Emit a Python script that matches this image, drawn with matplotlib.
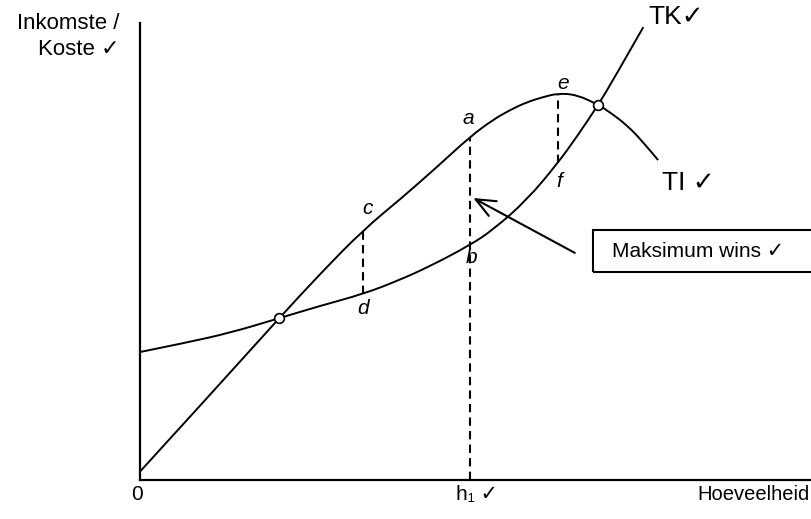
import matplotlib.pyplot as plt
from matplotlib.patches import Rectangle, PathPatch
from matplotlib.path import Path

# totale inkomste (TI) en totale koste (TK), gelees van die skets
ti_x = [0.1, 10.4, 20.7, 26.8, 33.2, 39.1, 44.2, 49.1, 52.5, 55.1, 57.6, 60.0,
        62.2, 65.0, 68.2, 69.9, 72.5, 74.9, 77.1]
ti_y = [2.0, 18.6, 35.4, 45.1, 54.7, 61.9, 68.5, 75.1, 78.8, 81.0, 82.7, 83.8,
        84.6, 84.3, 82.1, 80.5, 77.6, 73.9, 70.0]
tk_x = [0.0, 6.7, 13.4, 20.7, 26.8, 33.2, 38.2, 43.2, 49.1, 52.5, 57.6, 62.2,
        65.0, 68.2, 70.4, 74.9]
tk_y = [28.0, 30.0, 32.2, 35.4, 38.1, 40.7, 43.5, 46.8, 51.4, 54.7, 61.3, 69.4,
        75.1, 82.1, 87.5, 99.1]

# gelykbreekpunte
break_x = [20.7, 68.2]
break_y = [35.4, 82.1]

# vertikale stippellyne: (x, onder, bo)
gaps = [(33.2, 40.7, 54.7),
        (49.1, 0.0, 75.1),
        (62.2, 69.4, 84.4)]
h1 = 49.1

plt.rcParams["font.family"] = ["Liberation Sans", "DejaVu Sans"]


def smooth_path(xs, ys):
    # gladde kromme: die gelese punte dien as beheerpunte vir kwadratiese Bezier-stukke
    verts = [(xs[0], ys[0])]
    codes = [Path.MOVETO]
    n = len(xs)
    for i in range(1, n - 1):
        verts.append((xs[i], ys[i]))
        if i < n - 2:
            verts.append(((xs[i] + xs[i + 1]) / 2, (ys[i] + ys[i + 1]) / 2))
        else:
            verts.append((xs[-1], ys[-1]))
        codes += [Path.CURVE3, Path.CURVE3]
    return Path(verts, codes)


fig = plt.figure(figsize=(8.12, 5.19), dpi=100)
ax = fig.add_axes([140 / 812, 39 / 519, 672 / 812, 457 / 519])
ax.set_xlim(0, 100)
ax.set_ylim(0, 100)
for s in ["top", "right"]:
    ax.spines[s].set_visible(False)
for s in ["left", "bottom"]:
    ax.spines[s].set_linewidth(1.6)
ax.set_xticks([])
ax.set_yticks([])

ax.add_patch(PathPatch(smooth_path(ti_x, ti_y), fill=False, edgecolor="black", lw=1.4))
ax.add_patch(PathPatch(smooth_path(tk_x, tk_y), fill=False, edgecolor="black", lw=1.4))
ax.plot(break_x, break_y, "o", ms=7, mfc="white", mec="black", mew=1.2, zorder=5)

for x, lo, hi in gaps:
    ax.plot([x, x], [lo, hi], color="black", lw=1.5, linestyle=(0, (4, 2.5)))

ax.text(33.8, 59.5, "c", style="italic", fontsize=15, ha="center", va="center")
ax.text(33.2, 37.6, "d", style="italic", fontsize=15, ha="center", va="center")
ax.text(48.8, 79.0, "a", style="italic", fontsize=15, ha="center", va="center")
ax.text(49.3, 48.6, "b", style="italic", fontsize=15, ha="center", va="center")
ax.text(62.9, 86.8, "e", style="italic", fontsize=15, ha="center", va="center")
ax.text(62.4, 65.4, "f", style="italic", fontsize=15, ha="center", va="center")

ax.text(-3.0, 99.8, "Inkomste /", fontsize=16, ha="right", va="center", clip_on=False)
ax.text(-3.0, 94.3, "Koste \u2713", fontsize=16, ha="right", va="center", clip_on=False)
ax.text(75.6, 101.3, "TK\u2713", fontsize=19, ha="left", va="center", clip_on=False)
ax.text(77.7, 65.0, "TI \u2713", fontsize=19, ha="left", va="center", clip_on=False)

ax.text(-0.4, -3.1, "0", fontsize=15, ha="center", va="center", clip_on=False)
ax.text(h1 + 1.0, -3.1, "h\u2081 \u2713", fontsize=15, ha="center", va="center", clip_on=False)
ax.text(99.6, -3.1, "Hoeveelheid", fontsize=14.5, ha="right", va="center", clip_on=False)

ax.annotate("", xy=(49.6, 61.7), xytext=(64.7, 49.7),
            arrowprops=dict(arrowstyle="->,head_length=1.4,head_width=0.6",
                            color="black", lw=1.5, shrinkA=0, shrinkB=0))

ax.add_patch(Rectangle((67.4, 45.5), 40, 9.2, fill=False, edgecolor="black",
                       lw=1.5, clip_on=False))
ax.text(70.2, 50.1, "Maksimum wins \u2713", fontsize=15, ha="left", va="center")

fig.savefig("out.png", dpi=100)
